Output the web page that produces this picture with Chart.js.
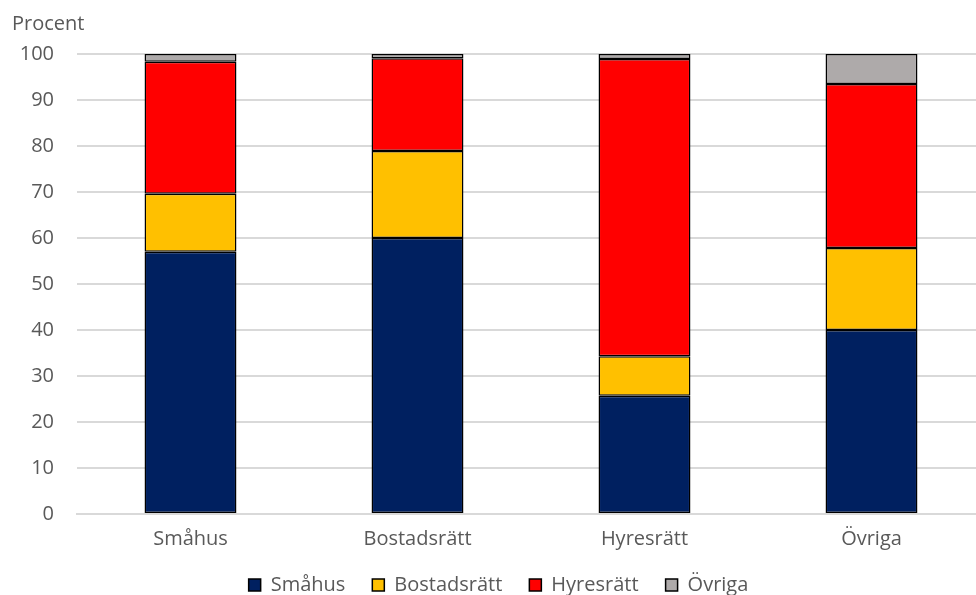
<!DOCTYPE html>
<html>
<head>
<meta charset="utf-8">
<script src="https://cdn.jsdelivr.net/npm/chart.js@4"></script>
<style>
  html, body { margin: 0; padding: 0; background: #fff; overflow: hidden; }
  #wrap { width: 985px; height: 595px; }
</style>
</head>
<body>
<div id="wrap"><canvas id="chart"></canvas></div>
<script>
// categories and series (percent)
const categories = ['Småhus', 'Bostadsrätt', 'Hyresrätt', 'Övriga'];
const smahus = [57.0, 60.0, 25.7, 40.0];
const bostadsratt = [12.6, 18.9, 8.6, 17.8];
const hyresratt = [28.7, 20.2, 64.6, 35.7];
const ovriga = [1.7, 0.9, 1.1, 6.5];
const yTicks = [0, 10, 20, 30, 40, 50, 60, 70, 80, 90, 100];

const textColor = '#595959';
const fontFamily = '"Open Sans", sans-serif';

function series(label, data, color) {
  return {
    label: label,
    data: data,
    backgroundColor: color,
    borderColor: '#000',
    borderWidth: 1.5,
    borderSkipped: false,
    barPercentage: 0.405,
    categoryPercentage: 1
  };
}

// legend sits closer to the axis labels than chart.js would put it
const legendShift = {
  id: 'legendShift',
  afterLayout(chart) {
    chart.legend.top -= 13;
    chart.legend.height += 13;
  }
};

const ctx = document.getElementById('chart').getContext('2d');
new Chart(ctx, {
  type: 'bar',
  data: {
    labels: categories,
    datasets: [
      series('Småhus', smahus, '#002060'),
      series('Bostadsrätt', bostadsratt, '#FFC000'),
      series('Hyresrätt', hyresratt, '#FF0000'),
      series('Övriga', ovriga, '#AEAAAA')
    ]
  },
  plugins: [legendShift],
  options: {
    responsive: true,
    maintainAspectRatio: false,
    animation: false,
    layout: { padding: { left: 12, right: 0, top: 0, bottom: 0 } },
    scales: {
      x: {
        stacked: true,
        grid: { display: false, drawTicks: false },
        border: { color: '#d9d9d9', width: 2 },
        afterFit: axis => { axis.height = 47; },
        ticks: { color: textColor, font: { family: fontFamily, size: 20 }, padding: 13 }
      },
      y: {
        stacked: true,
        min: 0,
        max: 100,
        afterBuildTicks: axis => { axis.ticks = yTicks.map(v => ({ value: v })); },
        afterFit: axis => { axis.width = 65; },
        grid: { color: '#d9d9d9', lineWidth: 2, drawTicks: false },
        border: { display: false },
        ticks: { color: textColor, font: { family: fontFamily, size: 20 }, padding: 23 }
      }
    },
    plugins: {
      title: {
        display: true,
        text: 'Procent',
        align: 'start',
        color: textColor,
        font: { family: fontFamily, size: 20, weight: 'normal' },
        padding: { top: 12, bottom: 18 }
      },
      legend: {
        position: 'bottom',
        maxHeight: 34,
        labels: {
          color: textColor,
          font: { family: fontFamily, size: 20 },
          boxWidth: 12,
          boxHeight: 12,
          padding: 27
        }
      },
      tooltip: { enabled: false }
    }
  }
});
</script>
</body>
</html>
